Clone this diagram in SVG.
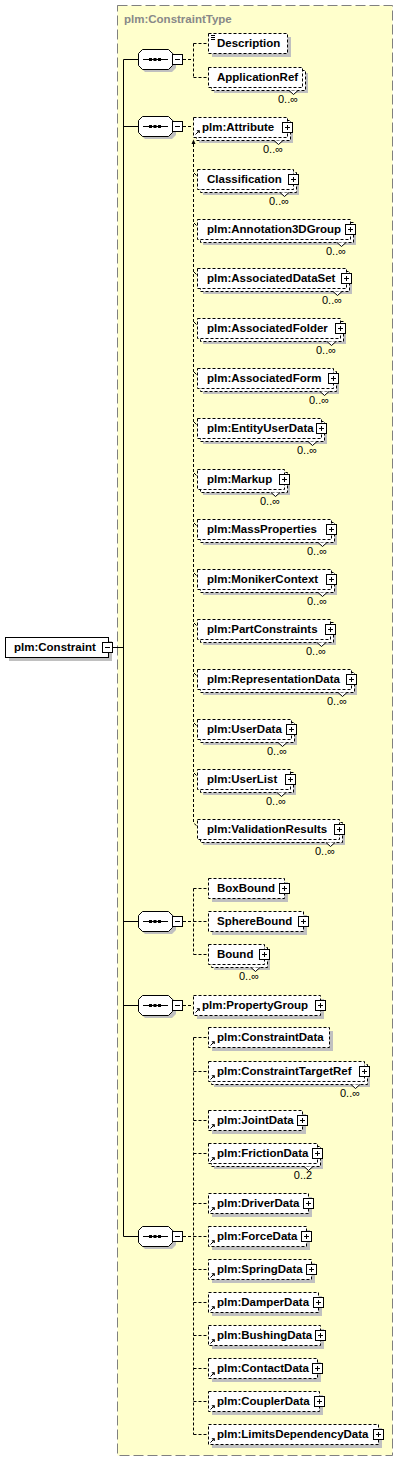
<svg xmlns="http://www.w3.org/2000/svg" xmlns:xlink="http://www.w3.org/1999/xlink" width="399" height="1462" viewBox="0 0 399 1462">
<style>
.frame{fill:#ffffcc;stroke:#808080;stroke-dasharray:10,4}
.sh{fill:#c0c0c0}
.el{fill:#fff;stroke:#000;stroke-dasharray:3,2}
.els{fill:#fff;stroke:#000}
.t{font-family:"Liberation Sans",Arial,sans-serif;font-weight:bold;font-size:11.5px;fill:#000}
.o{font-family:"Liberation Sans",Arial,sans-serif;font-size:11px;fill:#000;text-anchor:middle}
.ttl{font-family:"Liberation Sans",Arial,sans-serif;font-weight:bold;font-size:11.5px;fill:#888}
.ln{stroke:#000;fill:none}
.dl{stroke:#000;fill:none;stroke-dasharray:3,2}
.nt{stroke:#000;fill:#fff}
</style>
<defs>
<g id="plus"><rect x="0.5" y="0.5" width="10" height="10" fill="#fff" stroke="#000"/><path d="M3 5.5H8M5.5 3V8" stroke="#000"/></g>
<g id="minus"><rect x="0.5" y="0.5" width="10" height="10" fill="#fff" stroke="#000"/><path d="M3 5.5H8" stroke="#000"/></g>
<g id="ref"><path d="M0.5 4.5L3.5 1.5" stroke="#000" fill="none"/><path d="M2 0.5H4.5V3Z" fill="#000" stroke="#000" stroke-width="0.6"/></g>
<g id="seq"><polygon class="sh" points="7,3 34,3 38,7 38,19 34,23 7,23 3,19 3,7"/><polygon points="4.5,0.5 30.5,0.5 34.5,4.5 34.5,16.5 30.5,20.5 4.5,20.5 0.5,16.5 0.5,4.5" fill="#fff" stroke="#000"/><path d="M5 10.5H30" stroke="#000"/><rect x="11" y="9" width="3" height="3"/><rect x="15.5" y="9" width="3" height="3"/><rect x="20" y="9" width="3" height="3"/><use xlink:href="#minus" x="34" y="5"/></g>
</defs>
<rect class="frame" x="117.5" y="5.5" width="275" height="1450"/>
<text class="ttl" x="124" y="23">plm:ConstraintType</text>
<g id="connectors">
<path class="ln" d="M113 647.5H123.5M123.5 59.5V1236.5M123.5 59.5H138M123.5 126.5H138M123.5 921.5H138M123.5 1005.5H138M123.5 1236.5H138"/>
<path class="dl" d="M183 59.5H193.5M193.5 43.5V77.5M193.5 43.5H208M193.5 77.5H208"/>
<path class="dl" d="M183 126.5H193M193.5 144V823L197 826"/>
<path d="M193.5 139.5L191.5 144H195.5Z" fill="#000"/>
<path class="ln" d="M194 173l2.5 2.5M194 223l2.5 2.5M194 272l2.5 2.5M194 322l2.5 2.5M194 372l2.5 2.5M194 422l2.5 2.5M194 473l2.5 2.5M194 523l2.5 2.5M194 573l2.5 2.5M194 623l2.5 2.5M194 673l2.5 2.5M194 723l2.5 2.5M194 773l2.5 2.5"/>
<path class="dl" d="M183 921.5H193.5M193.5 888.5V954.5M193.5 888.5H208M193.5 921.5H208M193.5 954.5H208"/>
<path class="dl" d="M183 1005.5H193"/>
<path class="dl" d="M183 1236.5H193.5M193.5 1037.5V1434.5M193.5 1037.5H208M193.5 1071.5H208M193.5 1120.5H208M193.5 1153.5H208M193.5 1203.5H208M193.5 1236.5H208M193.5 1269.5H208M193.5 1302.5H208M193.5 1335.5H208M193.5 1368.5H208M193.5 1401.5H208M193.5 1434.5H208"/>
</g>
<g id="root">
<rect class="sh" x="9" y="641" width="103" height="20"/>
<rect class="els" x="5.5" y="637.5" width="103" height="20"/>
<text class="t" x="14" y="651">plm:Constraint</text>
<use xlink:href="#minus" x="102" y="642"/>
</g>
<g id="seq1"><use xlink:href="#seq" x="138" y="49"/></g>
<g id="seq2"><use xlink:href="#seq" x="138" y="116"/></g>
<g id="seq3"><use xlink:href="#seq" x="138" y="911"/></g>
<g id="seq4"><use xlink:href="#seq" x="138" y="995"/></g>
<g id="seq5"><use xlink:href="#seq" x="138" y="1226"/></g>

<g id="n-description">
<rect class="sh" x="212" y="37" width="79" height="20"/>
<rect class="el" x="208.5" y="33.5" width="79" height="20"/>
<path class="ln" d="M211 35.5h4M211 37.5h4M211 39.5h4"/>
<text class="t" x="217" y="47">Description</text>
</g>
<g id="n-applicationref">
<rect class="sh" x="214" y="73" width="94" height="20"/>
<rect class="el" x="211.5" y="70.5" width="94" height="20"/>
<rect class="el" x="208.5" y="67.5" width="94" height="20"/>
<text class="t" x="217" y="81">ApplicationRef</text>
<path class="nt" d="M289 90.5L293.5 94.5L298 90.5"/>
<text class="o" x="288" y="103">0..∞</text>
</g>

<g id="n-attribute">
<rect class="sh" x="199" y="123" width="94" height="20"/>
<rect class="el" x="196.5" y="120.5" width="94" height="20"/>
<rect class="el" x="193.5" y="117.5" width="94" height="20"/>
<use xlink:href="#ref" x="195" y="130"/>
<text class="t" x="202" y="131">plm:Attribute</text>
<use xlink:href="#plus" x="282" y="122"/>
<path class="nt" d="M274 140.5L278.5 144.5L283 140.5"/>
<text class="o" x="273" y="153">0..∞</text>
</g>
<g id="n-classification">
<rect class="sh" x="203" y="175" width="96" height="20"/>
<rect class="el" x="200.5" y="172.5" width="96" height="20"/>
<rect class="el" x="197.5" y="169.5" width="96" height="20"/>
<text class="t" x="207" y="183">Classification</text>
<use xlink:href="#plus" x="288" y="174"/>
<path class="nt" d="M280 192.5L284.5 196.5L289 192.5"/>
<text class="o" x="279" y="205">0..∞</text>
</g>
<g id="n-annotation3dgroup">
<rect class="sh" x="203" y="225" width="153" height="20"/>
<rect class="el" x="200.5" y="222.5" width="153" height="20"/>
<rect class="el" x="197.5" y="219.5" width="153" height="20"/>
<text class="t" x="207" y="233">plm:Annotation3DGroup</text>
<use xlink:href="#plus" x="345" y="224"/>
<path class="nt" d="M337 242.5L341.5 246.5L346 242.5"/>
<text class="o" x="336" y="255">0..∞</text>
</g>
<g id="n-associateddataset">
<rect class="sh" x="203" y="274" width="149" height="20"/>
<rect class="el" x="200.5" y="271.5" width="149" height="20"/>
<rect class="el" x="197.5" y="268.5" width="149" height="20"/>
<text class="t" x="207" y="282">plm:AssociatedDataSet</text>
<use xlink:href="#plus" x="341" y="273"/>
<path class="nt" d="M333 291.5L337.5 295.5L342 291.5"/>
<text class="o" x="332" y="304">0..∞</text>
</g>
<g id="n-associatedfolder">
<rect class="sh" x="203" y="324" width="143" height="20"/>
<rect class="el" x="200.5" y="321.5" width="143" height="20"/>
<rect class="el" x="197.5" y="318.5" width="143" height="20"/>
<text class="t" x="207" y="332">plm:AssociatedFolder</text>
<use xlink:href="#plus" x="335" y="323"/>
<path class="nt" d="M327 341.5L331.5 345.5L336 341.5"/>
<text class="o" x="326" y="354">0..∞</text>
</g>
<g id="n-associatedform">
<rect class="sh" x="203" y="374" width="136" height="20"/>
<rect class="el" x="200.5" y="371.5" width="136" height="20"/>
<rect class="el" x="197.5" y="368.5" width="136" height="20"/>
<text class="t" x="207" y="382">plm:AssociatedForm</text>
<use xlink:href="#plus" x="328" y="373"/>
<path class="nt" d="M320 391.5L324.5 395.5L329 391.5"/>
<text class="o" x="319" y="404">0..∞</text>
</g>
<g id="n-entityuserdata">
<rect class="sh" x="203" y="424" width="124" height="20"/>
<rect class="el" x="200.5" y="421.5" width="124" height="20"/>
<rect class="el" x="197.5" y="418.5" width="124" height="20"/>
<text class="t" x="207" y="432">plm:EntityUserData</text>
<use xlink:href="#plus" x="316" y="423"/>
<path class="nt" d="M308 441.5L312.5 445.5L317 441.5"/>
<text class="o" x="307" y="454">0..∞</text>
</g>
<g id="n-markup">
<rect class="sh" x="203" y="475" width="87" height="20"/>
<rect class="el" x="200.5" y="472.5" width="87" height="20"/>
<rect class="el" x="197.5" y="469.5" width="87" height="20"/>
<text class="t" x="207" y="483">plm:Markup</text>
<use xlink:href="#plus" x="279" y="474"/>
<path class="nt" d="M271 492.5L275.5 496.5L280 492.5"/>
<text class="o" x="270" y="505">0..∞</text>
</g>
<g id="n-massproperties">
<rect class="sh" x="203" y="525" width="134" height="20"/>
<rect class="el" x="200.5" y="522.5" width="134" height="20"/>
<rect class="el" x="197.5" y="519.5" width="134" height="20"/>
<text class="t" x="207" y="533">plm:MassProperties</text>
<use xlink:href="#plus" x="326" y="524"/>
<path class="nt" d="M318 542.5L322.5 546.5L327 542.5"/>
<text class="o" x="317" y="555">0..∞</text>
</g>
<g id="n-monikercontext">
<rect class="sh" x="203" y="575" width="134" height="20"/>
<rect class="el" x="200.5" y="572.5" width="134" height="20"/>
<rect class="el" x="197.5" y="569.5" width="134" height="20"/>
<text class="t" x="207" y="583">plm:MonikerContext</text>
<use xlink:href="#plus" x="326" y="574"/>
<path class="nt" d="M318 592.5L322.5 596.5L327 592.5"/>
<text class="o" x="317" y="605">0..∞</text>
</g>
<g id="n-partconstraints">
<rect class="sh" x="203" y="625" width="133" height="20"/>
<rect class="el" x="200.5" y="622.5" width="133" height="20"/>
<rect class="el" x="197.5" y="619.5" width="133" height="20"/>
<text class="t" x="207" y="633">plm:PartConstraints</text>
<use xlink:href="#plus" x="325" y="624"/>
<path class="nt" d="M317 642.5L321.5 646.5L326 642.5"/>
<text class="o" x="316" y="655">0..∞</text>
</g>
<g id="n-representationdata">
<rect class="sh" x="203" y="675" width="154" height="20"/>
<rect class="el" x="200.5" y="672.5" width="154" height="20"/>
<rect class="el" x="197.5" y="669.5" width="154" height="20"/>
<text class="t" x="207" y="683">plm:RepresentationData</text>
<use xlink:href="#plus" x="346" y="674"/>
<path class="nt" d="M338 692.5L342.5 696.5L347 692.5"/>
<text class="o" x="337" y="705">0..∞</text>
</g>
<g id="n-userdata">
<rect class="sh" x="203" y="725" width="94" height="20"/>
<rect class="el" x="200.5" y="722.5" width="94" height="20"/>
<rect class="el" x="197.5" y="719.5" width="94" height="20"/>
<text class="t" x="207" y="733">plm:UserData</text>
<use xlink:href="#plus" x="286" y="724"/>
<path class="nt" d="M278 742.5L282.5 746.5L287 742.5"/>
<text class="o" x="277" y="755">0..∞</text>
</g>
<g id="n-userlist">
<rect class="sh" x="203" y="775" width="93" height="20"/>
<rect class="el" x="200.5" y="772.5" width="93" height="20"/>
<rect class="el" x="197.5" y="769.5" width="93" height="20"/>
<text class="t" x="207" y="783">plm:UserList</text>
<use xlink:href="#plus" x="285" y="774"/>
<path class="nt" d="M277 792.5L281.5 796.5L286 792.5"/>
<text class="o" x="276" y="805">0..∞</text>
</g>
<g id="n-validationresults">
<rect class="sh" x="203" y="825" width="142" height="20"/>
<rect class="el" x="200.5" y="822.5" width="142" height="20"/>
<rect class="el" x="197.5" y="819.5" width="142" height="20"/>
<text class="t" x="207" y="833">plm:ValidationResults</text>
<use xlink:href="#plus" x="334" y="824"/>
<path class="nt" d="M326 842.5L330.5 846.5L335 842.5"/>
<text class="o" x="325" y="855">0..∞</text>
</g>

<g id="n-boxbound">
<rect class="sh" x="212" y="882" width="76" height="20"/>
<rect class="el" x="208.5" y="878.5" width="76" height="20"/>
<text class="t" x="217" y="892">BoxBound</text>
<use xlink:href="#plus" x="279" y="883"/>
</g>
<g id="n-spherebound">
<rect class="sh" x="212" y="915" width="95" height="20"/>
<rect class="el" x="208.5" y="911.5" width="95" height="20"/>
<text class="t" x="217" y="925">SphereBound</text>
<use xlink:href="#plus" x="298" y="916"/>
</g>
<g id="n-bound">
<rect class="sh" x="214" y="950" width="56" height="20"/>
<rect class="el" x="211.5" y="947.5" width="56" height="20"/>
<rect class="el" x="208.5" y="944.5" width="56" height="20"/>
<text class="t" x="217" y="958">Bound</text>
<use xlink:href="#plus" x="259" y="949"/>
<path class="nt" d="M251 967.5L255.5 971.5L260 967.5"/>
<text class="o" x="249" y="980">0..∞</text>
</g>

<g id="n-propertygroup">
<rect class="sh" x="197" y="999" width="127" height="20"/>
<rect class="el" x="193.5" y="995.5" width="127" height="20"/>
<use xlink:href="#ref" x="195" y="1008"/>
<text class="t" x="202" y="1009">plm:PropertyGroup</text>
<use xlink:href="#plus" x="315" y="1000"/>
</g>

<g id="n-constraintdata">
<rect class="sh" x="212" y="1031" width="121" height="20"/>
<rect class="el" x="208.5" y="1027.5" width="121" height="20"/>
<use xlink:href="#ref" x="210" y="1041"/>
<text class="t" x="217" y="1041">plm:ConstraintData</text>
</g>
<g id="n-constrainttargetref">
<rect class="sh" x="214" y="1067" width="156" height="20"/>
<rect class="el" x="211.5" y="1064.5" width="156" height="20"/>
<rect class="el" x="208.5" y="1061.5" width="156" height="20"/>
<use xlink:href="#ref" x="210" y="1075"/>
<text class="t" x="217" y="1075">plm:ConstraintTargetRef</text>
<use xlink:href="#plus" x="359" y="1066"/>
<path class="nt" d="M351 1084.5L355.5 1088.5L360 1084.5"/>
<text class="o" x="350" y="1097">0..∞</text>
</g>
<g id="n-jointdata">
<rect class="sh" x="212" y="1114" width="94" height="20"/>
<rect class="el" x="208.5" y="1110.5" width="94" height="20"/>
<use xlink:href="#ref" x="210" y="1124"/>
<text class="t" x="217" y="1124">plm:JointData</text>
<use xlink:href="#plus" x="297" y="1115"/>
</g>
<g id="n-frictiondata">
<rect class="sh" x="214" y="1149" width="109" height="20"/>
<rect class="el" x="211.5" y="1146.5" width="109" height="20"/>
<rect class="el" x="208.5" y="1143.5" width="109" height="20"/>
<use xlink:href="#ref" x="210" y="1157"/>
<text class="t" x="217" y="1157">plm:FrictionData</text>
<use xlink:href="#plus" x="312" y="1148"/>
<path class="nt" d="M304 1166.5L308.5 1170.5L313 1166.5"/>
<text class="o" x="303" y="1179">0..2</text>
</g>
<g id="n-driverdata">
<rect class="sh" x="212" y="1197" width="100" height="20"/>
<rect class="el" x="208.5" y="1193.5" width="100" height="20"/>
<use xlink:href="#ref" x="210" y="1207"/>
<text class="t" x="217" y="1207">plm:DriverData</text>
<use xlink:href="#plus" x="303" y="1198"/>
</g>
<g id="n-forcedata">
<rect class="sh" x="212" y="1230" width="98" height="20"/>
<rect class="el" x="208.5" y="1226.5" width="98" height="20"/>
<use xlink:href="#ref" x="210" y="1240"/>
<text class="t" x="217" y="1240">plm:ForceData</text>
<use xlink:href="#plus" x="301" y="1231"/>
</g>
<g id="n-springdata">
<rect class="sh" x="212" y="1263" width="103" height="20"/>
<rect class="el" x="208.5" y="1259.5" width="103" height="20"/>
<use xlink:href="#ref" x="210" y="1273"/>
<text class="t" x="217" y="1273">plm:SpringData</text>
<use xlink:href="#plus" x="306" y="1264"/>
</g>
<g id="n-damperdata">
<rect class="sh" x="212" y="1296" width="110" height="20"/>
<rect class="el" x="208.5" y="1292.5" width="110" height="20"/>
<use xlink:href="#ref" x="210" y="1306"/>
<text class="t" x="217" y="1306">plm:DamperData</text>
<use xlink:href="#plus" x="313" y="1297"/>
</g>
<g id="n-bushingdata">
<rect class="sh" x="212" y="1329" width="112" height="20"/>
<rect class="el" x="208.5" y="1325.5" width="112" height="20"/>
<use xlink:href="#ref" x="210" y="1339"/>
<text class="t" x="217" y="1339">plm:BushingData</text>
<use xlink:href="#plus" x="315" y="1330"/>
</g>
<g id="n-contactdata">
<rect class="sh" x="212" y="1362" width="109" height="20"/>
<rect class="el" x="208.5" y="1358.5" width="109" height="20"/>
<use xlink:href="#ref" x="210" y="1372"/>
<text class="t" x="217" y="1372">plm:ContactData</text>
<use xlink:href="#plus" x="312" y="1363"/>
</g>
<g id="n-couplerdata">
<rect class="sh" x="212" y="1395" width="111" height="20"/>
<rect class="el" x="208.5" y="1391.5" width="111" height="20"/>
<use xlink:href="#ref" x="210" y="1405"/>
<text class="t" x="217" y="1405">plm:CouplerData</text>
<use xlink:href="#plus" x="314" y="1396"/>
</g>
<g id="n-limitsdependencydata">
<rect class="sh" x="212" y="1428" width="170" height="20"/>
<rect class="el" x="208.5" y="1424.5" width="170" height="20"/>
<use xlink:href="#ref" x="210" y="1438"/>
<text class="t" x="217" y="1438">plm:LimitsDependencyData</text>
<use xlink:href="#plus" x="373" y="1429"/>
</g>
</svg>
